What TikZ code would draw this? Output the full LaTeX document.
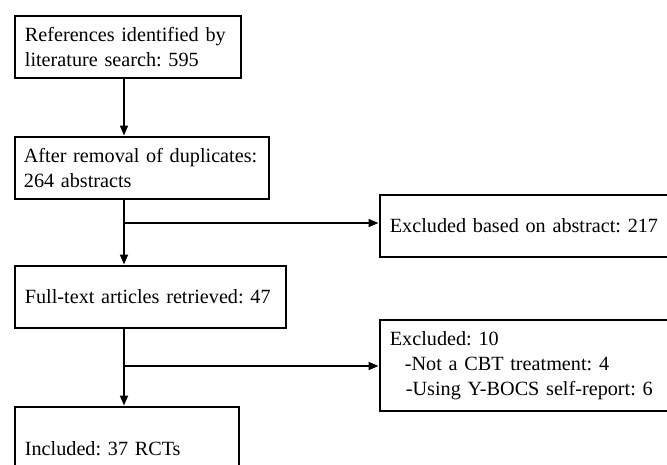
\documentclass[tikz,border=0pt]{standalone}
\usepackage{fontspec}
\setmainfont{Liberation Serif}
\usetikzlibrary{arrows.meta}
\begin{document}
\frenchspacing
\begin{tikzpicture}[x=1pt,y=-1pt,
    box/.style={draw,line width=2.8pt,anchor=north west,align=left,
      inner xsep=10pt,inner ysep=0pt,
      font=\fontsize{20.2}{25}\selectfont\frenchspacing},
    arr/.style={line width=1.8pt,-{Triangle[length=10pt,width=8pt]}}]
  \path[use as bounding box,clip] (0,0) rectangle (667,464);
  \path
    (13.5,14.5) node[box,text width=206pt,minimum height=62pt] (found){References identified by\\literature search: 595}
    (13.5,135.5) node[box,text width=236pt,minimum height=62pt,inner xsep=9pt] (dedup){After removal of duplicates:\\264 abstracts}
    (378.5,193.5) node[box,text width=280pt,minimum height=62pt] (exabs){Excluded based on abstract: 217}
    (13.5,264.5) node[box,text width=251pt,minimum height=62pt] (full){Full-text articles retrieved: 47}
    (378.5,318.5) node[box,text width=280pt,minimum height=91pt] (exfull){Excluded: 10\\\hspace*{15pt}-Not a CBT treatment: 4\\\hspace*{16pt}-Using Y-BOCS self-report: 6}
    (13.5,405.5) node[box,text width=204pt,minimum height=84pt] (incl){Included: 37 RCTs};
  \coordinate (spine) at (124,0);
  \coordinate (j1) at (124,223);
  \coordinate (j2) at (124,366);
  \begin{scope}[arr]
    \draw (found.south -| spine) to (dedup.north -| spine);
    \draw (dedup.south -| spine) to (full.north -| spine);
    \draw (j1) to (j1 -| exabs.west);
    \draw (full.south -| spine) to (incl.north -| spine);
    \draw (j2) to (j2 -| exfull.west);
  \end{scope}
\end{tikzpicture}
\end{document}
